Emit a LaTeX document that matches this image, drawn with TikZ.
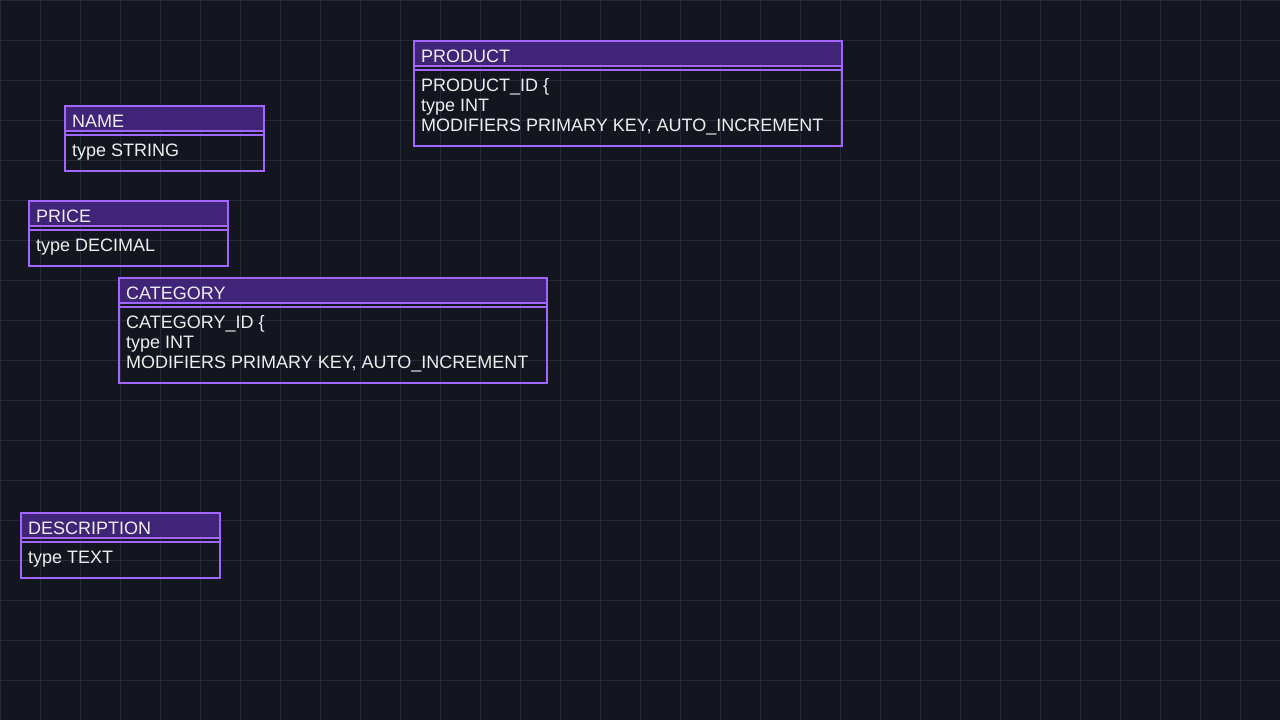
\documentclass[tikz,border=0pt]{standalone}
\usepackage{fontspec}
\setmainfont{Liberation Sans}
\usepackage{tikz}
\definecolor{bgcol}{HTML}{13161F}
\definecolor{gridcol}{HTML}{252A3A}
\definecolor{entborder}{HTML}{A066FF}
\definecolor{entfill}{HTML}{3F2478}
\definecolor{enttextcol}{HTML}{EEEEEE}
\tikzset{
	gridline/.style={draw=gridcol,line width=1pt},
	entity/.style={draw=entborder,line width=2pt,rectangle,inner sep=0pt,outer sep=0pt,anchor=north west},
	enthead/.style={entity,fill=entfill,minimum height=25pt},
	entline/.style={draw=entborder,line width=2pt},
	enttext/.style={text=enttextcol,inner sep=0pt,anchor=base west,font=\fontsize{18}{20}\selectfont}
}

\begin{document}
\begin{tikzpicture}[x=1pt,y=-1pt]
	\fill[bgcol] (0,0) rectangle (1280,720);
	\useasboundingbox (0,0) rectangle (1280,720);
	\foreach \gx in {0,40,...,1280} \draw[gridline] (\gx,0) -- (\gx,720);
	\foreach \gy in {0,40,...,720} \draw[gridline] (0,\gy) -- (1280,\gy);

	% PRODUCT
	\node [entity,minimum width=428pt,minimum height=105pt] (product) at (414,41) {};
	\node [enthead,minimum width=428pt] (product-head) at (product.north west) {};
	\draw [entline] ([shift={(0,29)}]product.north west) -- ([shift={(0,29)}]product.north east);
	\node [enttext] (product-title) at ([shift={(7,21)}]product.north west) {PRODUCT};
	\node [enttext] (product-body) at ([shift={(7,50)}]product.north west) {\parbox[t]{420pt}{PRODUCT\_ID \{\\type INT\\MODIFIERS PRIMARY KEY, AUTO\_INCREMENT}};

	% NAME
	\node [entity,minimum width=199pt,minimum height=65pt] (name) at (65,106) {};
	\node [enthead,minimum width=199pt] (name-head) at (name.north west) {};
	\draw [entline] ([shift={(0,29)}]name.north west) -- ([shift={(0,29)}]name.north east);
	\node [enttext] (name-title) at ([shift={(7,21)}]name.north west) {NAME};
	\node [enttext] (name-body) at ([shift={(7,50)}]name.north west) {type STRING};

	% PRICE
	\node [entity,minimum width=199pt,minimum height=65pt] (price) at (29,201) {};
	\node [enthead,minimum width=199pt] (price-head) at (price.north west) {};
	\draw [entline] ([shift={(0,29)}]price.north west) -- ([shift={(0,29)}]price.north east);
	\node [enttext] (price-title) at ([shift={(7,21)}]price.north west) {PRICE};
	\node [enttext] (price-body) at ([shift={(7,50)}]price.north west) {type DECIMAL};

	% CATEGORY
	\node [entity,minimum width=428pt,minimum height=105pt] (category) at (119,278) {};
	\node [enthead,minimum width=428pt] (category-head) at (category.north west) {};
	\draw [entline] ([shift={(0,29)}]category.north west) -- ([shift={(0,29)}]category.north east);
	\node [enttext] (category-title) at ([shift={(7,21)}]category.north west) {CATEGORY};
	\node [enttext] (category-body) at ([shift={(7,50)}]category.north west) {\parbox[t]{420pt}{CATEGORY\_ID \{\\type INT\\MODIFIERS PRIMARY KEY, AUTO\_INCREMENT}};

	% DESCRIPTION
	\node [entity,minimum width=199pt,minimum height=65pt] (description) at (21,513) {};
	\node [enthead,minimum width=199pt] (description-head) at (description.north west) {};
	\draw [entline] ([shift={(0,29)}]description.north west) -- ([shift={(0,29)}]description.north east);
	\node [enttext] (description-title) at ([shift={(7,21)}]description.north west) {DESCRIPTION};
	\node [enttext] (description-body) at ([shift={(7,50)}]description.north west) {type TEXT};
\end{tikzpicture}
\end{document}
